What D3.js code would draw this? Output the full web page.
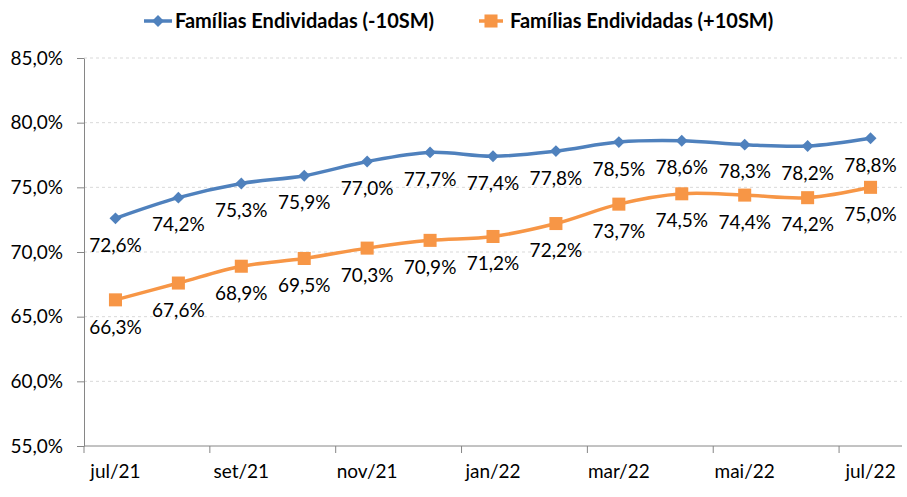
<!DOCTYPE html>
<html><head><meta charset="utf-8">
<script src="https://cdn.jsdelivr.net/npm/d3@7"></script>
<style>body{margin:0;background:#fff}svg{display:block}</style>
</head><body>
<svg id="c" width="907" height="497"></svg>
<script>
const categories = ["jul/21","ago/21","set/21","out/21","nov/21","dez/21","jan/22","fev/22","mar/22","abr/22","mai/22","jun/22","jul/22"];
const seriesNames = ["Famílias Endividadas (-10SM)","Famílias Endividadas (+10SM)"];
const below10 = [72.6,74.2,75.3,75.9,77.0,77.7,77.4,77.8,78.5,78.6,78.3,78.2,78.8];
const above10 = [66.3,67.6,68.9,69.5,70.3,70.9,71.2,72.2,73.7,74.5,74.4,74.2,75.0];
const yTicks = [55,60,65,70,75,80,85];
const xLabels = ["jul/21","set/21","nov/21","jan/22","mar/22","mai/22","jul/22"];

(function(){
const svg = d3.select("#c");
const pL = 84, pR = 902, pT = 58, pB = 446;
const font = "Lato, 'Open Sans', sans-serif";
const fs = 19;
const x = d3.scaleBand().domain(categories).range([pL, pR]);
const y = d3.scaleLinear().domain([55,85]).range([pB, pT]);
const fmt = v => d3.format(".1f")(v).replace(".", ",") + "%";

// gridlines
svg.append("g").selectAll("line").data(yTicks.filter(d=>d>55)).join("line")
  .attr("x1", pL).attr("x2", pR).attr("y1", d=>y(d)).attr("y2", d=>y(d))
  .attr("stroke", "#d9d9d9").attr("stroke-width", 1).attr("stroke-dasharray", "3,3");

// y axis
const ya = svg.append("g").attr("transform", `translate(${pL},0)`)
  .call(d3.axisLeft(y).tickValues(yTicks).tickFormat(fmt).tickSize(7).tickSizeOuter(0).tickPadding(14));
ya.select(".domain").attr("stroke", "#868686");
ya.selectAll(".tick line").attr("stroke", "#868686");
ya.selectAll("text").attr("font-family", font).attr("font-size", fs).attr("fill", "#000");

// x axis
const bw = x.bandwidth();
const xa = svg.append("g").attr("transform", `translate(0,${pB})`);
xa.append("line").attr("x1", pL).attr("x2", pR).attr("stroke", "#868686");
xa.selectAll("line.t").data(categories.filter((d,i)=>i%2===0)).join("line").attr("class","t")
  .attr("x1", d=>x(d)).attr("x2", d=>x(d)).attr("y1", 0).attr("y2", 7).attr("stroke", "#868686");
xa.selectAll("text").data(xLabels).join("text")
  .attr("x", d=>x(d)+bw/2).attr("y", 32).attr("text-anchor","middle")
  .attr("font-family", font).attr("font-size", fs).attr("fill", "#000").text(d=>d);

const colors = ["#4F81BD", "#F79646"];
const data = [below10, above10];
const line = d3.line().x((d,i)=>x(categories[i])+bw/2).y(d=>y(d)).curve(d3.curveCatmullRom.alpha(0.5));
const diamond = d3.symbol().type(d3.symbolDiamond2).size(90);
const square = d3.symbol().type(d3.symbolSquare).size(170);

data.forEach((vals, s) => {
  svg.append("path").datum(vals).attr("d", line).attr("fill","none")
    .attr("stroke", colors[s]).attr("stroke-width", 3.5).attr("stroke-linejoin","round");
  svg.append("g").selectAll("path").data(vals).join("path")
    .attr("d", s===0 ? diamond : square)
    .attr("transform", (d,i)=>`translate(${x(categories[i])+bw/2},${y(d)})`)
    .attr("fill", colors[s]);
  svg.append("g").selectAll("text").data(vals).join("text")
    .attr("x", (d,i)=>x(categories[i])+bw/2).attr("y", d=>y(d)+27).attr("dy","0.35em")
    .attr("text-anchor","middle").attr("font-family", font).attr("font-size", fs).attr("fill","#000")
    .text(fmt);
});

// legend
const legendX = [144, 479];
seriesNames.forEach((n, s) => {
  const g = svg.append("g").attr("transform", `translate(${legendX[s]},21)`);
  g.append("line").attr("x1",0).attr("x2", s===0?28:24).attr("stroke", colors[s]).attr("stroke-width", 3.5);
  g.append("path").attr("d", s===0 ? diamond : square).attr("transform", `translate(${s===0?14:12},0)`).attr("fill", colors[s]);
  g.append("text").attr("x", 31).attr("dy","0.35em").attr("font-family", font).attr("font-weight","bold")
    .attr("font-size", 20).attr("fill","#000").text(n);
});
})();
</script>
</body></html>
